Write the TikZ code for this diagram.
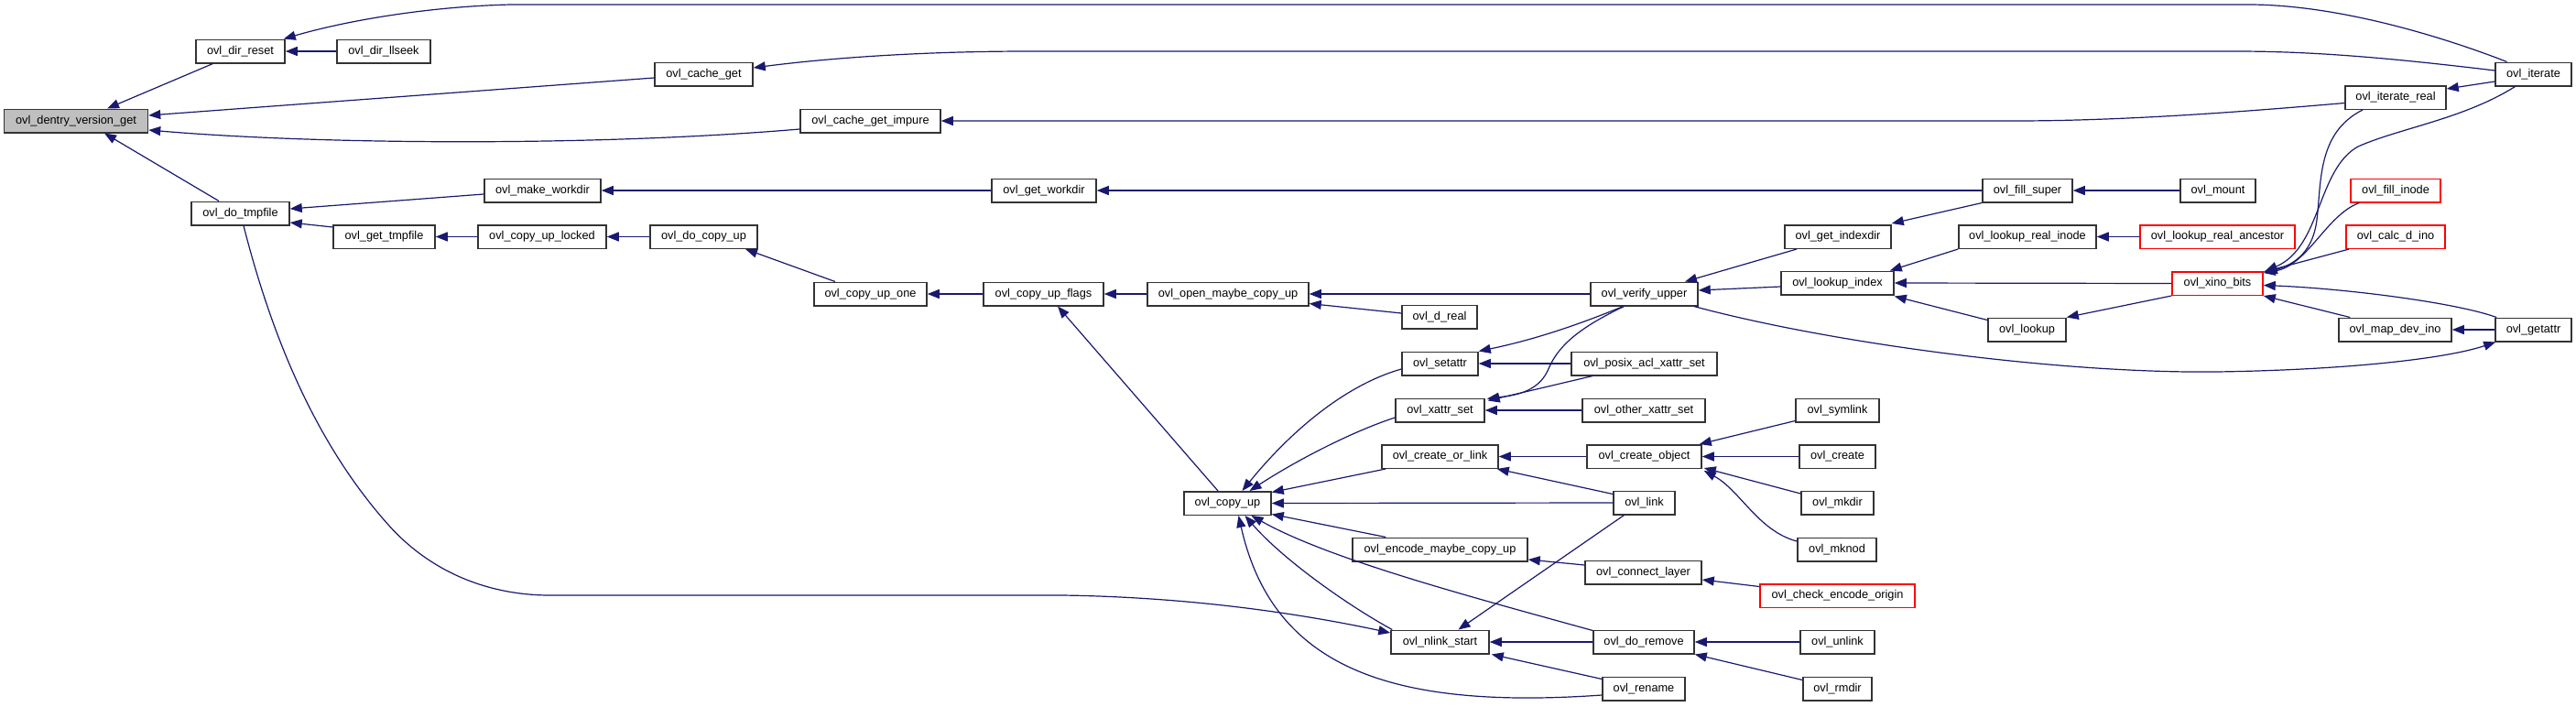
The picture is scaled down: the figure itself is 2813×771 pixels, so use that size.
\documentclass[tikz,border=0pt]{standalone}
\usepackage{fontspec}
\setmainfont{Liberation Sans}
\usetikzlibrary{arrows.meta,calc}
\definecolor{edgecol}{HTML}{191970}
\definecolor{boxgray}{HTML}{BFBFBF}
\definecolor{boxline}{HTML}{333333}
\begin{document}
\begin{tikzpicture}[x=1pt,y=-1pt,
 fn/.style={draw=boxline, line width=1.5pt, fill=white, minimum height=25.5pt, inner sep=0pt, font=\fontsize{12.75}{15}\selectfont, anchor=center},
 fnred/.style={fn, draw=red},
 call/.style={draw=edgecol, line width=1.2pt, -{Triangle[length=13pt,width=10pt]}}]
\useasboundingbox[fill=white] (0,0) rectangle (2813,771);
% nodes
\node[fn,fill=boxgray,minimum width=157pt] (dvg) at (83,132) {ovl\_dentry\_version\_get};
\node[fn,minimum width=97pt] (dirreset) at (262.5,56) {ovl\_dir\_reset};
\node[fn,minimum width=102pt] (dirllseek) at (419,56) {ovl\_dir\_llseek};
\node[fn,minimum width=107pt] (dotmp) at (262.5,233) {ovl\_do\_tmpfile};
\node[fn,minimum width=127pt] (makework) at (592.5,208) {ovl\_make\_workdir};
\node[fn,minimum width=111pt] (gettmp) at (419.5,258.5) {ovl\_get\_tmpfile};
\node[fn,minimum width=140pt] (culocked) at (592,258.5) {ovl\_copy\_up\_locked};
\node[fn,minimum width=107pt] (cacheget) at (768.5,81) {ovl\_cache\_get};
\node[fn,minimum width=153pt] (cgimpure) at (950.5,132) {ovl\_cache\_get\_impure};
\node[fn,minimum width=114pt] (getwork) at (1140,208) {ovl\_get\_workdir};
\node[fn,minimum width=117pt] (docopyup) at (768.5,258.5) {ovl\_do\_copy\_up};
\node[fn,minimum width=123pt] (cuone) at (950.5,321) {ovl\_copy\_up\_one};
\node[fn,minimum width=131pt] (cuflags) at (1139.5,321) {ovl\_copy\_up\_flags};
\node[fn,minimum width=176pt] (openmaybe) at (1341,321) {ovl\_open\_maybe\_copy\_up};
\node[fn,minimum width=95pt] (copyup) at (1340.5,549.5) {ovl\_copy\_up};
\node[fn,minimum width=117pt] (verify) at (1795.5,321) {ovl\_verify\_upper};
\node[fn,minimum width=82pt] (dreal) at (1572,346) {ovl\_d\_real};
\node[fn,minimum width=116pt] (getindexdir) at (2007,258.5) {ovl\_get\_indexdir};
\node[fn,minimum width=123pt] (lookupindex) at (2006.5,309) {ovl\_lookup\_index};
\node[fn,minimum width=83pt] (setattr) at (1572.5,397) {ovl\_setattr};
\node[fn,minimum width=159pt] (posixacl) at (1795.5,397) {ovl\_posix\_acl\_xattr\_set};
\node[fn,minimum width=97pt] (xattrset) at (1572.5,448) {ovl\_xattr\_set};
\node[fn,minimum width=134pt] (otherxattr) at (1795,448) {ovl\_other\_xattr\_set};
\node[fn,minimum width=91pt] (symlink) at (2006.5,448) {ovl\_symlink};
\node[fn,minimum width=127pt] (createorlink) at (1572.5,498.5) {ovl\_create\_or\_link};
\node[fn,minimum width=125pt] (createobj) at (1795.5,498.5) {ovl\_create\_object};
\node[fn,minimum width=83pt] (create) at (2006.5,498.5) {ovl\_create};
\node[fn,minimum width=67pt] (link) at (1795.5,549) {ovl\_link};
\node[fn,minimum width=79pt] (mkdir) at (2006.5,549) {ovl\_mkdir};
\node[fn,minimum width=191pt] (encode) at (1572.5,600) {ovl\_encode\_maybe\_copy\_up};
\node[fn,minimum width=86pt] (mknod) at (2006,600) {ovl\_mknod};
\node[fn,minimum width=127pt] (connect) at (1794.5,625) {ovl\_connect\_layer};
\node[fnred,minimum width=169pt] (checkenc) at (2006.5,650.5) {ovl\_check\_encode\_origin};
\node[fn,minimum width=107pt] (nlink) at (1572.5,701) {ovl\_nlink\_start};
\node[fn,minimum width=110pt] (doremove) at (1795,701) {ovl\_do\_remove};
\node[fn,minimum width=81pt] (unlink) at (2006.5,701) {ovl\_unlink};
\node[fn,minimum width=90pt] (rename) at (1795,752) {ovl\_rename};
\node[fn,minimum width=75pt] (rmdir) at (2006.5,752) {ovl\_rmdir};
\node[fn,minimum width=83pt] (iterate) at (2766.5,81) {ovl\_iterate};
\node[fn,minimum width=110pt] (iterreal) at (2616,106.5) {ovl\_iterate\_real};
\node[fn,minimum width=98pt] (fillsuper) at (2214,208) {ovl\_fill\_super};
\node[fn,minimum width=82pt] (mount) at (2422,208) {ovl\_mount};
\node[fnred,minimum width=98pt] (fillinode) at (2616,208) {ovl\_fill\_inode};
\node[fn,minimum width=150pt] (lookuprealinode) at (2214,258.5) {ovl\_lookup\_real\_inode};
\node[fnred,minimum width=169pt] (lookuprealanc) at (2421.5,258.5) {ovl\_lookup\_real\_ancestor};
\node[fnred,minimum width=108pt] (calcdino) at (2616,258.5) {ovl\_calc\_d\_ino};
\node[fnred,minimum width=99pt] (xino) at (2421.5,309.5) {ovl\_xino\_bits};
\node[fn,minimum width=85pt] (lookup) at (2213.5,360) {ovl\_lookup};
\node[fn,minimum width=123pt] (mapdevino) at (2615.5,360) {ovl\_map\_dev\_ino};
\node[fn,minimum width=83pt] (getattr) at (2766.5,360) {ovl\_getattr};
% edges
\draw[call] ($(dirreset.south)+(-30,0)$) -- ($(dvg.north)+(34,0)$);
\draw[call] ($(cacheget.west)+(0,4)$) -- ($(dvg.east)+(0,-6)$);
\draw[call] ($(cgimpure.west)+(0,9)$) .. controls (650,160) and (350,158) .. ($(dvg.east)+(0,10)$);
\draw[call] ($(dotmp.north)+(-23.5,0)$) -- ($(dvg.south)+(31,0)$);
\draw[call] (dirllseek.west) -- (dirreset.east);
\draw[call] ($(iterate.north)+(-29,0)$) .. controls (2680,45) and (2560,5) .. (2455,5) -- (558,5) .. controls (470,7) and (380,22) .. ($(dirreset.north east)+(-2,0)$);
\draw[call] ($(iterate.west)+(0,-4)$) .. controls (2600,62) and (2520,56) .. (2441,56) -- (1124,56) .. controls (1000,56) and (900,64) .. ($(cacheget.east)+(0,-7)$);
\draw[call] ($(iterreal.west)+(0,6)$) .. controls (2450,122) and (2320,132) .. (2200,132) -- (cgimpure.east);
\draw[call] ($(iterate.west)+(0,8)$) -- ($(iterreal.east)+(0,-9.5)$);
\draw[call] ($(makework.west)+(0,4)$) -- ($(dotmp.east)+(0,-5)$);
\draw[call] ($(gettmp.north west)+(0,3)$) -- ($(dotmp.east)+(0,10)$);
\draw[call] ($(dotmp.south)+(3.5,0)$) .. controls (300,380) and (350,490) .. (424,573) .. controls (474,629) and (540,650) .. (600,650) -- (1160,650) .. controls (1300,652) and (1420,670) .. ($(nlink.west)+(0,-10)$);
\draw[call] (getwork.west) -- (makework.east);
\draw[call] (fillsuper.west) -- (getwork.east);
\draw[call] (mount.west) -- (fillsuper.east);
\draw[call] (culocked.west) -- (gettmp.east);
\draw[call] (docopyup.west) -- (culocked.east);
\draw[call] ($(cuone.north)+(-38.5,0)$) -- ($(docopyup.south)+(45.5,0)$);
\draw[call] (cuflags.west) -- (cuone.east);
\draw[call] (openmaybe.west) -- (cuflags.east);
\draw[call] ($(copyup.north)+(-10.5,0)$) -- ($(cuflags.south)+(15.5,0)$);
\draw[call] (verify.west) -- (openmaybe.east);
\draw[call] ($(dreal.west)+(0,-4)$) -- ($(openmaybe.south east)+(0,-3)$);
\draw[call] ($(getindexdir.south)+(-45,0)$) -- ($(verify.north)+(44.5,0)$);
\draw[call] ($(lookupindex.west)+(0,4)$) -- ($(verify.east)+(0,-4)$);
\draw[call] ($(verify.south east)+(-5,0)$) .. controls (2000,375) and (2250,408) .. (2420,406) .. controls (2560,404) and (2670,392) .. ($(getattr.south west)+(1,0)$);
\draw[call] ($(verify.south)+(-23,0)$) .. controls (1730,352) and (1680,370) .. (setattr.north east);
\draw[call] ($(verify.south)+(-22,0)$) .. controls (1720,360) and (1700,380) .. (1690,405) .. controls (1678,430) and (1650,432) .. ($(xattrset.north east)+(2,1)$);
\draw[call] (posixacl.west) -- (setattr.east);
\draw[call] ($(posixacl.south west)+(24,0)$) -- ($(xattrset.north east)+(3,3)$);
\draw[call] (otherxattr.west) -- (xattrset.east);
\draw[call] ($(setattr.west)+(0,6)$) .. controls (1470,420) and (1410,470) .. ($(copyup.north)+(16,0)$);
\draw[call] ($(xattrset.west)+(0,8)$) .. controls (1480,470) and (1420,500) .. ($(copyup.north)+(24,0)$);
\draw[call] ($(createorlink.south west)+(5,0)$) -- ($(copyup.east)+(0,-12)$);
\draw[call] (link.west) -- (copyup.east);
\draw[call] ($(encode.north west)+(37,0)$) -- ($(copyup.east)+(0,12)$);
\draw[call] ($(doremove.north west)+(0,1)$) .. controls (1600,650) and (1450,610) .. ($(copyup.south)+(26,0)$);
\draw[call] ($(nlink.north west)+(2,0)$) .. controls (1470,660) and (1400,610) .. ($(copyup.south)+(19,0)$);
\draw[call] ($(rename.west)+(0,7)$) .. controls (1520,775) and (1390,730) .. ($(copyup.south)+(12,0)$);
\draw[call] (createobj.west) -- (createorlink.east);
\draw[call] ($(link.north west)+(0,4)$) -- ($(createorlink.south east)+(-2,0)$);
\draw[call] ($(symlink.south west)+(0,-2)$) -- ($(createobj.north east)+(-3,0)$);
\draw[call] (create.west) -- (createobj.east);
\draw[call] ($(mkdir.west)+(0,-10)$) -- ($(createobj.south east)+(2,-1)$);
\draw[call] ($(mknod.west)+(0,-9)$) .. controls (1920,580) and (1900,535) .. ($(createobj.south east)+(2,2)$);
\draw[call] ($(connect.west)+(0,-8)$) -- ($(encode.east)+(0,11)$);
\draw[call] ($(checkenc.west)+(0,-10)$) -- ($(connect.east)+(0,8)$);
\draw[call] ($(link.south)+(-22,0)$) -- ($(nlink.north)+(20,0)$);
\draw[call] (doremove.west) -- (nlink.east);
\draw[call] ($(rename.north west)+(0,3)$) -- ($(nlink.south east)+(2,0)$);
\draw[call] (unlink.west) -- (doremove.east);
\draw[call] ($(rmdir.north west)+(0,4)$) -- (doremove.south east);
\draw[call] (fillsuper.south west) -- ($(getindexdir.north east)+(0,-1)$);
\draw[call] (lookuprealinode.south west) -- ($(lookupindex.north east)+(-5,0)$);
\draw[call] (lookuprealanc.west) -- (lookuprealinode.east);
\draw[call] (xino.west) -- (lookupindex.east);
\draw[call] ($(lookup.north west)+(0,3)$) -- ($(lookupindex.south east)+(0,1)$);
\draw[call] (xino.south west) -- (lookup.north east);
\draw[call] ($(mapdevino.north west)+(13,0)$) -- (xino.south east);
\draw[call] ($(getattr.north west)+(2,0)$) .. controls (2680,330) and (2560,315) .. ($(xino.east)+(0,2)$);
\draw[call] (getattr.west) -- (mapdevino.east);
\draw[call] ($(calcdino.south west)+(4,0)$) -- ($(xino.north east)+(0,1)$);
\draw[call] ($(fillinode.south west)+(10,0)$) .. controls (2540,235) and (2520,290) .. ($(xino.north east)+(0,2)$);
\draw[call] ($(iterreal.south)+(-36,0)$) .. controls (2530,145) and (2535,200) .. (2530,240) .. controls (2525,280) and (2500,290) .. ($(xino.north east)+(2,2)$);
\draw[call] ($(iterate.south)+(-20,0)$) .. controls (2690,130) and (2620,140) .. (2575,160) .. controls (2530,185) and (2535,270) .. ($(xino.north east)+(2,0)$);
\end{tikzpicture}
\end{document}
